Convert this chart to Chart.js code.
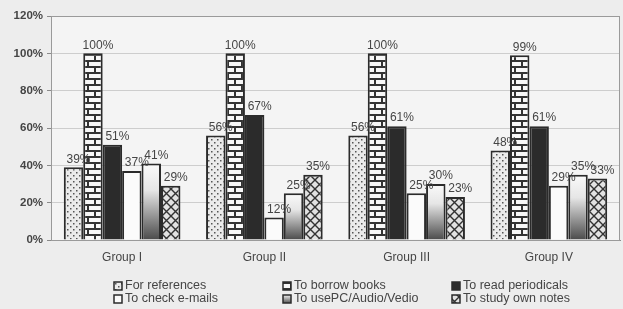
<!DOCTYPE html>
<html lang="en">
<head>
    <meta charset="UTF-8">
    <title>Library use by group</title>
    <style>
        html, body { margin: 0; padding: 0; background: #ededed; }
        #wrap { width: 623px; height: 309px; }
    </style>
</head>
<body>
    <div id="wrap"><canvas id="myChart" width="623" height="309"></canvas></div>

    <script src="https://cdn.jsdelivr.net/npm/chart.js"></script>
    <script>
        const groups = ['Group I', 'Group II', 'Group III', 'Group IV'];
        const seriesNames = ['For references', 'To borrow books', 'To read periodicals',
                             'To check e-mails', 'To usePC/Audio/Vedio', 'To study own notes'];
        const forReferences = [39, 56, 56, 48];
        const borrowBooks = [100, 100, 100, 99];
        const readPeriodicals = [51, 67, 61, 61];
        const checkEmails = [37, 12, 25, 29];
        const usePC = [41, 25, 30, 35];
        const ownNotes = [29, 35, 23, 33];
        const yTicks = [0, 20, 40, 60, 80, 100, 120];

        const ink = '#2b2b2b';
        const textColor = '#454545';

        // little tiles for the grey patterns
        function tile(w, h, draw) {
            const c = document.createElement('canvas');
            c.width = w; c.height = h;
            draw(c.getContext('2d'));
            return c.getContext('2d').createPattern(c, 'repeat');
        }
        const dots = tile(6, 6, g => {
            g.fillStyle = '#ebebeb'; g.fillRect(0, 0, 6, 6);
            g.fillStyle = '#555';
            g.fillRect(1, 1, 1.5, 1.5);
            g.fillRect(4, 4, 1.5, 1.5);
        });
        const bricks = tile(14, 12, g => {
            g.fillStyle = '#f7f7f7'; g.fillRect(0, 0, 14, 12);
            g.fillStyle = '#333';
            g.fillRect(0, 0, 14, 2);
            g.fillRect(0, 6, 14, 2);
            g.fillRect(3, 0, 2, 6);
            g.fillRect(10, 6, 2, 6);
        });
        const hatch = tile(9, 9, g => {
            g.fillStyle = '#e2e2e2'; g.fillRect(0, 0, 9, 9);
            g.strokeStyle = '#333'; g.lineWidth = 1.4;
            g.beginPath();
            g.moveTo(0, 0); g.lineTo(9, 9);
            g.moveTo(9, 0); g.lineTo(0, 9);
            g.stroke();
        });

        function gradientFill(ctx) {
            const chart = ctx.chart;
            if (!chart.chartArea || !chart.scales.y || ctx.raw === undefined) return '#aaa';
            const top = chart.scales.y.getPixelForValue(ctx.raw);
            const bottom = chart.chartArea.bottom;
            const grad = chart.ctx.createLinearGradient(0, top, 0, bottom);
            grad.addColorStop(0, '#fafafa');
            grad.addColorStop(0.35, '#e6e6e6');
            grad.addColorStop(1, '#4a4a4a');
            return grad;
        }

        const fills = [dots, bricks, ink, '#fbfbfb', gradientFill, hatch];
        const values = [forReferences, borrowBooks, readPeriodicals, checkEmails, usePC, ownNotes];

        const datasets = seriesNames.map((name, i) => ({
            label: name,
            data: values[i],
            backgroundColor: fills[i],
            borderColor: ink,
            borderWidth: 2,
            categoryPercentage: 0.82,
            barPercentage: 1.0
        }));

        // value labels above bars, legend grid and plot frame
        const extras = {
            id: 'extras',
            beforeDraw(chart) {
                const { ctx, chartArea: a } = chart;
                ctx.save();
                ctx.fillStyle = '#f4f4f4';
                ctx.fillRect(a.left, a.top, a.right - a.left, a.bottom - a.top);
                ctx.restore();
            },
            afterDatasetsDraw(chart) {
                const { ctx, chartArea: a } = chart;
                ctx.save();
                ctx.strokeStyle = '#9a9a9a';
                ctx.lineWidth = 1;
                ctx.strokeRect(a.left + 0.5, a.top + 0.5, a.right - a.left - 1, a.bottom - a.top);
                ctx.font = '12px "Liberation Sans", Arial, sans-serif';
                ctx.fillStyle = textColor;
                ctx.textAlign = 'center';
                ctx.textBaseline = 'bottom';
                chart.data.datasets.forEach((ds, i) => {
                    chart.getDatasetMeta(i).data.forEach((bar, j) => {
                        ctx.fillText(ds.data[j] + '%', bar.x + 5, bar.y - 2);
                    });
                });

                // legend, 3 columns x 2 rows
                const cols = [114, 283, 452];
                const rows = [286, 299];
                ctx.font = '12.5px "Liberation Sans", Arial, sans-serif';
                ctx.textAlign = 'left';
                ctx.textBaseline = 'middle';
                chart.data.datasets.forEach((ds, i) => {
                    const x = cols[i % 3];
                    const y = rows[Math.floor(i / 3)];
                    let f = fills[i];
                    if (typeof f === 'function') {
                        const g = ctx.createLinearGradient(0, y - 4, 0, y + 4);
                        g.addColorStop(0, '#f0f0f0');
                        g.addColorStop(1, '#555');
                        f = g;
                    }
                    ctx.fillStyle = f;
                    ctx.fillRect(x, y - 4, 8, 8);
                    ctx.strokeStyle = ink;
                    ctx.lineWidth = 1.5;
                    ctx.strokeRect(x, y - 4, 8, 8);
                    ctx.fillStyle = textColor;
                    ctx.fillText(ds.label, x + 11, y);
                });
                ctx.restore();
            }
        };

        const ctx = document.getElementById('myChart').getContext('2d');
        const myChart = new Chart(ctx, {
            type: 'bar',
            data: { labels: groups, datasets: datasets },
            options: {
                responsive: false,
                animation: false,
                layout: { padding: { top: 16, right: 3, left: 0, bottom: 0 } },
                plugins: {
                    legend: { display: false },
                    tooltip: { enabled: false }
                },
                scales: {
                    x: {
                        grid: { display: false },
                        border: { display: true, color: '#8a8a8a' },
                        ticks: {
                            color: textColor,
                            padding: 2,
                            font: { family: '"Liberation Sans", Arial, sans-serif', size: 12 }
                        },
                        afterFit: s => { s.height = 69; }
                    },
                    y: {
                        min: 0,
                        max: 120,
                        afterBuildTicks: s => { s.ticks = yTicks.map(v => ({ value: v })); },
                        grid: { color: '#cdcdcd', tickLength: 4, tickColor: '#8a8a8a' },
                        border: { display: true, color: '#8a8a8a' },
                        ticks: {
                            color: textColor,
                            padding: 4,
                            font: { family: '"Liberation Sans", Arial, sans-serif', size: 11.5, weight: 'bold' },
                            callback: v => v + '%'
                        },
                        afterFit: s => { s.width = 51; }
                    }
                }
            },
            plugins: [extras]
        });
    </script>
</body>
</html>
